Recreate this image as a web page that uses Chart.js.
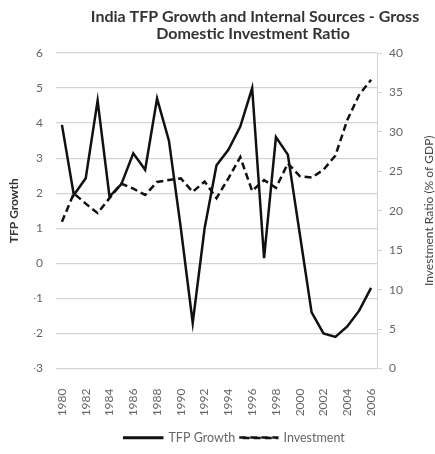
<!DOCTYPE html>
<html>
<head>
<meta charset="utf-8">
<script src="https://cdn.jsdelivr.net/npm/chart.js@4"></script>
<style>
  html, body { margin: 0; padding: 0; background: #fff; }
</style>
</head>
<body>
<canvas id="tfpChart" width="435" height="454"></canvas>
<script>
// DATA
const years = [
  "1980", "1981", "1982", "1983", "1984", "1985", "1986", "1987", "1988",
  "1989", "1990", "1991", "1992", "1993", "1994", "1995", "1996", "1997",
  "1998", "1999", "2000", "2001", "2002", "2003", "2004", "2005", "2006",
];
const tfpGrowth = [
  3.95, 1.95, 2.43, 4.64, 1.9, 2.26, 3.14, 2.67, 4.7, 3.5, 1.0, -1.7, 1.0,
  2.8, 3.24, 3.9, 5.0, 0.15, 3.6, 3.1, 0.85, -1.4, -2.0, -2.1, -1.8, -1.35,
  -0.7,
];
const investment = [
  18.6, 22.2, 20.9, 19.7, 21.6, 23.45, 22.8, 22.0, 23.65, 23.9, 24.1, 22.4,
  23.7, 21.6, 24.1, 26.8, 22.5, 23.9, 22.9, 26.0, 24.4, 24.2, 25.2, 27.0,
  31.5, 34.7, 36.6,
];
const titleLines = [
  "India TFP Growth and Internal Sources - Gross",
  "Domestic Investment Ratio",
];
const leftTitle = "TFP Growth";
const rightTitle = "Investment Ratio (% of GDP)";

const FONT = "Lato, 'DejaVu Sans', sans-serif";
const gridColor = "#d4d4d4";
const tickColor = "#666666";

// titles drawn by hand so they can sit where the original has them
const textPlugin = {
  id: "extraText",
  afterDraw(chart) {
    const ctx = chart.ctx;
    const area = chart.chartArea;
    const midY = (area.top + area.bottom) / 2;
    ctx.save();
    ctx.fillStyle = "#333333";
    ctx.textAlign = "center";
    ctx.textBaseline = "middle";
    ctx.font = "bold 16px " + FONT;
    ctx.fillText(titleLines[0], 255, 17);
    ctx.fillText(titleLines[1], 253, 34);

    ctx.font = "bold 12px " + FONT;
    ctx.translate(14, midY);
    ctx.rotate(-Math.PI / 2);
    ctx.fillText(leftTitle, 0, 0);
    ctx.restore();

    ctx.save();
    ctx.fillStyle = "#444444";
    ctx.textAlign = "center";
    ctx.textBaseline = "middle";
    ctx.font = "12px " + FONT;
    ctx.translate(429, midY);
    ctx.rotate(-Math.PI / 2);
    ctx.fillText(rightTitle, 0, 0);
    ctx.restore();
  },
};

Chart.defaults.font.family = FONT;
Chart.defaults.font.size = 12;
Chart.defaults.color = tickColor;

let tfpctx = document.getElementById("tfpChart").getContext("2d");
new Chart(tfpctx, {
  type: "line",
  data: {
    labels: years,
    datasets: [
      {
        label: "TFP Growth",
        data: tfpGrowth,
        yAxisID: "y",
        borderColor: "#111111",
        backgroundColor: "#111111",
        borderWidth: 2.5,
        pointRadius: 0,
        tension: 0,
      },
      {
        label: "Investment",
        data: investment,
        yAxisID: "y1",
        borderColor: "#111111",
        backgroundColor: "rgba(0,0,0,0)",
        borderWidth: 2.5,
        borderDash: [7, 4],
        pointRadius: 0,
        tension: 0,
      },
    ],
  },
  options: {
    responsive: false,
    animation: false,
    layout: { padding: { top: 53, left: 34, right: 0, bottom: 0 } },
    plugins: {
      title: { display: false },
      tooltip: { enabled: false },
      legend: {
        position: "bottom",
        labels: {
          boxWidth: 38,
          boxHeight: 0.5,
          padding: 4,
          color: tickColor,
          font: { size: 12.5 },
        },
      },
    },
    scales: {
      x: {
        offset: true,
        grid: { display: false },
        border: { display: false },
        ticks: {
          autoSkip: false,
          maxRotation: 90,
          minRotation: 90,
          padding: 12,
          callback: function (val, i) {
            return i % 2 === 0 ? years[i] : "";
          },
        },
        afterFit(scale) {
          scale.height = 59;
        },
      },
      y: {
        position: "left",
        min: -3,
        max: 6,
        ticks: { stepSize: 1, padding: 13 },
        grid: { color: gridColor, lineWidth: 1.3, drawTicks: false },
        border: { display: false },
        afterFit(scale) {
          scale.width = 22;
        },
      },
      y1: {
        position: "right",
        min: 0,
        max: 40,
        ticks: { stepSize: 5, padding: 7 },
        grid: {
          drawOnChartArea: false,
          color: gridColor,
          tickLength: 5,
        },
        border: { display: true, color: gridColor },
        afterFit(scale) {
          scale.width = 58;
        },
      },
    },
  },
  plugins: [textPlugin],
});
</script>
</body>
</html>
